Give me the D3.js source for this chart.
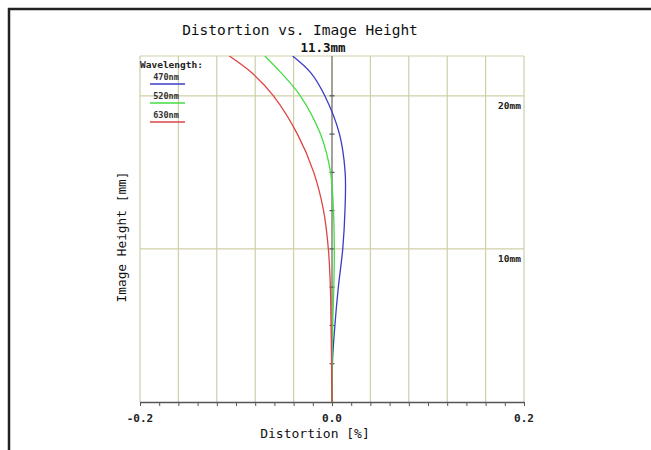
<!DOCTYPE html>
<html>
<head>
<meta charset="utf-8">
<script src="https://cdn.jsdelivr.net/npm/d3@7"></script>
<style>
  body { margin: 0; background: #fff; }
  svg { display: block; }
</style>
</head>
<body>
<div id="chart"></div>
<script>
// image heights [mm] and distortion [%] per wavelength
var heights = [0, 2.5, 5, 7.5, 10, 12.5, 15, 17.5, 20, 21.5, 22.6];
var dist470 = [0, 0.0004, 0.0030, 0.0066, 0.0112, 0.0135, 0.0137, 0.0078, -0.0075, -0.022, -0.041];
var dist520 = [0, 0.0002, 0.0007, 0.0019, 0.0024, 0.0015, -0.0015, -0.012, -0.033, -0.053, -0.070];
var dist630 = [0, -0.0004, -0.0010, -0.0017, -0.0038, -0.0088, -0.019, -0.036, -0.061, -0.0835, -0.107];

var waveNames = ["470nm", "520nm", "630nm"];
var waveColors = ["#3c3cc8", "#44dd44", "#dd4444"];
var xTicks = [-0.2, 0.0, 0.2];
var hLabels = [20, 10];

var W = 651, H = 450;
var margin = {top: 56, right: 127, bottom: 48, left: 140},
    width = W - margin.left - margin.right,
    height = H - margin.top - margin.bottom;

var mono = "'DejaVu Sans Mono', 'Liberation Mono', monospace";

var svg = d3.select("#chart")
  .append("svg")
    .attr("width", W)
    .attr("height", H);

// outer frame (only top and left edges fall inside the picture)
svg.append("rect")
  .attr("x", 9).attr("y", 9)
  .attr("width", W + 20).attr("height", H + 20)
  .attr("fill", "none")
  .attr("stroke", "#222")
  .attr("stroke-width", 2.5);

var g = svg.append("g")
  .attr("transform", "translate(" + margin.left + "," + margin.top + ")");

var x = d3.scaleLinear().domain([-0.2, 0.2]).range([0, width]);
var y = d3.scaleLinear().domain([0, 22.6]).range([height, 0]);

var gridColor = "#cfcfa8";

// vertical grid
g.append("g")
  .selectAll("line")
  .data(d3.range(-0.2, 0.2001, 0.04))
  .join("line")
    .attr("x1", d => x(d)).attr("x2", d => x(d))
    .attr("y1", 0).attr("y2", height)
    .attr("stroke", gridColor)
    .attr("stroke-width", 1.2);

// horizontal grid
g.append("g")
  .selectAll("line")
  .data([10, 20, 22.6])
  .join("line")
    .attr("x1", 0).attr("x2", width)
    .attr("y1", d => y(d)).attr("y2", d => y(d))
    .attr("stroke", gridColor)
    .attr("stroke-width", 1.2);

// zero axis with ticks every 2.5mm
g.append("line")
  .attr("x1", x(0)).attr("x2", x(0))
  .attr("y1", 0).attr("y2", height)
  .attr("stroke", "#80807a")
  .attr("stroke-width", 1.3);
g.append("g")
  .selectAll("line")
  .data(d3.range(2.5, 22.5, 2.5))
  .join("line")
    .attr("x1", x(0) - 2.5).attr("x2", x(0) + 2.5)
    .attr("y1", d => y(d)).attr("y2", d => y(d))
    .attr("stroke", "#555")
    .attr("stroke-width", 1.2);

// bottom axis
var xAxis = g.append("g")
  .attr("transform", "translate(0," + height + ")")
  .call(d3.axisBottom(x)
    .tickValues(d3.range(-0.2, 0.2001, 0.02))
    .tickSize(4)
    .tickSizeOuter(0)
    .tickFormat(""));
xAxis.select(".domain").attr("stroke", "#555").attr("stroke-width", 1.5);
xAxis.selectAll(".tick line").attr("stroke", "#555");

g.append("g")
  .selectAll("text")
  .data(xTicks)
  .join("text")
    .attr("x", d => x(d))
    .attr("y", height + 20)
    .attr("text-anchor", "middle")
    .style("font-family", mono)
    .style("font-size", "11px")
    .style("font-weight", "bold")
    .attr("fill", "#222")
    .text(d => d3.format(".1f")(d).replace("−", "-"));

// height labels on the right
g.append("g")
  .selectAll("text")
  .data(hLabels)
  .join("text")
    .attr("x", width - 3)
    .attr("y", d => y(d) + 13)
    .attr("text-anchor", "end")
    .style("font-family", mono)
    .style("font-size", "9.5px")
    .style("font-weight", "bold")
    .attr("fill", "#222")
    .text(d => d + "mm");

// curves
g.append("clipPath").attr("id", "clip")
  .append("rect").attr("width", width).attr("height", height);

var series = [dist470, dist520, dist630];
var line = d3.line()
  .x(d => x(d[1]))
  .y(d => y(d[0]))
  .curve(d3.curveCatmullRom);

g.append("g")
  .attr("clip-path", "url(#clip)")
  .selectAll("path")
  .data(series)
  .join("path")
    .attr("fill", "none")
    .attr("stroke", (d, i) => waveColors[i])
    .attr("stroke-width", 1.3)
    .attr("d", d => line(heights.map((h, i) => [h, d[i]])));

// legend
g.append("text")
  .attr("x", 0).attr("y", 12)
  .style("font-family", mono)
  .style("font-size", "9.5px")
  .style("font-weight", "bold")
  .attr("fill", "#222")
  .text("Wavelength:");

var leg = g.append("g")
  .selectAll("g")
  .data(waveNames)
  .join("g")
    .attr("transform", (d, i) => "translate(0," + (24 + i * 19) + ")");
leg.append("text")
  .attr("x", 26).attr("y", 0)
  .attr("text-anchor", "middle")
  .style("font-family", mono)
  .style("font-size", "8.5px")
  .style("font-weight", "bold")
  .attr("fill", "#333")
  .text(d => d);
leg.append("line")
  .attr("x1", 10).attr("x2", 45)
  .attr("y1", 4).attr("y2", 4)
  .attr("stroke", (d, i) => waveColors[i])
  .attr("stroke-width", 1.3);

// titles
svg.append("text")
  .attr("x", 300).attr("y", 35)
  .attr("text-anchor", "middle")
  .style("font-family", mono)
  .style("font-size", "14.5px")
  .attr("fill", "#111")
  .text("Distortion vs. Image Height");
svg.append("text")
  .attr("x", 323).attr("y", 52)
  .attr("text-anchor", "middle")
  .style("font-family", mono)
  .style("font-size", "12.5px")
  .style("font-weight", "bold")
  .attr("fill", "#111")
  .text("11.3mm");

svg.append("text")
  .attr("x", 315).attr("y", 438)
  .attr("text-anchor", "middle")
  .style("font-family", mono)
  .style("font-size", "13px")
  .attr("fill", "#111")
  .text("Distortion [%]");

svg.append("text")
  .attr("transform", "translate(126,237) rotate(-90)")
  .attr("text-anchor", "middle")
  .style("font-family", mono)
  .style("font-size", "12.8px")
  .attr("fill", "#111")
  .text("Image Height [mm]");
</script>
</body>
</html>
